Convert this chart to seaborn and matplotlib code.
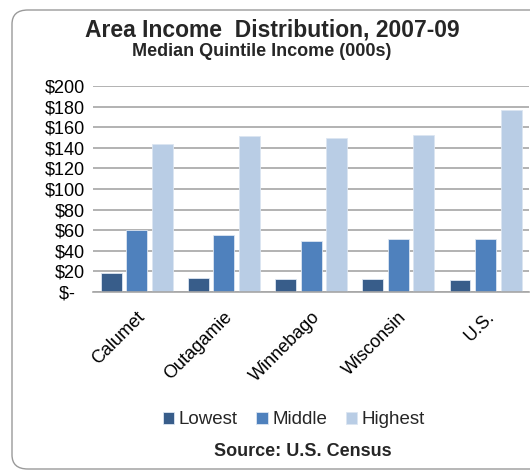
import matplotlib
matplotlib.use("Agg")
import matplotlib.pyplot as plt
import seaborn as sns
import pandas as pd
from matplotlib.patches import FancyBboxPatch

categories = ["Calumet", "Outagamie", "Winnebago", "Wisconsin", "U.S."]
lowest = [18, 14, 13, 13, 12]
middle = [60, 55, 50, 51, 51]
highest = [144, 151, 150, 152, 177]
series_names = ["Lowest", "Middle", "Highest"]
ytick_values = [0, 20, 40, 60, 80, 100, 120, 140, 160, 180, 200]
ytick_labels = ["$-  ", "$20", "$40", "$60", "$80", "$100", "$120", "$140", "$160", "$180", "$200"]

rows = []
for name, vals in zip(series_names, [lowest, middle, highest]):
    for c, v in zip(categories, vals):
        rows.append({"Area": c, "Quintile": name, "Income": v})
df = pd.DataFrame(rows)

sns.set_theme(style="white")
plt.rcParams["font.family"] = ["Liberation Sans", "DejaVu Sans"]

fig = plt.figure(figsize=(5.3, 4.71), dpi=100)
ax = fig.add_axes([0.1755, 0.38, 0.823, 0.4374])

palette = ["#385D8A", "#4F81BD", "#B9CDE5"]
sns.barplot(data=df, x="Area", y="Income", hue="Quintile", hue_order=series_names,
            order=categories, palette=palette, saturation=1, width=0.88, gap=0.18,
            edgecolor="#DCE6F2", linewidth=0.6, ax=ax, legend=True)

ax.set_ylim(0, 200)
ax.set_yticks(ytick_values)
ax.set_yticklabels(ytick_labels, fontsize=13, color="black")
ax.yaxis.grid(True, color="#A6A6A6", linewidth=1.2)
ax.set_axisbelow(True)
for s in ["left", "right", "top"]:
    ax.spines[s].set_visible(False)
ax.spines["bottom"].set_color("#A6A6A6")
ax.spines["bottom"].set_linewidth(1.2)
ax.tick_params(axis="y", length=0, pad=6)
ax.tick_params(axis="x", length=0, pad=12)
ax.set_xlabel("")
ax.set_ylabel("")
plt.setp(ax.get_xticklabels(), rotation=45, ha="right", rotation_mode="anchor",
         fontsize=13, color="black")

leg = ax.legend(loc="center", bbox_to_anchor=(294 / 530, 1 - 420 / 471),
                bbox_transform=fig.transFigure, ncol=3, frameon=False,
                fontsize=13.5, handlelength=0.6, handleheight=0.6,
                handletextpad=0.25, columnspacing=1.0)

fig.text(272 / 530, 1 - 36 / 471, "Area Income  Distribution, 2007-09",
         ha="center", va="baseline", fontsize=16.5, fontweight="bold")
fig.text(262 / 530, 1 - 56 / 471, "Median Quintile Income (000s)",
         ha="center", va="baseline", fontsize=13, fontweight="bold")
fig.text(303 / 530, 1 - 452 / 471, "Source: U.S. Census",
         ha="center", va="center", fontsize=13, fontweight="bold")

border = FancyBboxPatch((12 / 530, 2 / 471), 560 / 530, 459 / 471,
                        boxstyle="round,pad=0,rounding_size=0.03",
                        transform=fig.transFigure, fill=False,
                        edgecolor="#9A9A9A", linewidth=1.0, clip_on=False)
fig.patches.append(border)

fig.savefig("out.png", dpi=100)
